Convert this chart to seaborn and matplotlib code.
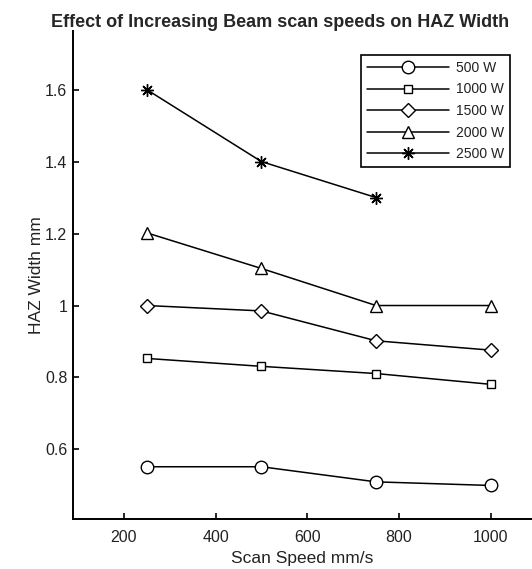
import matplotlib
matplotlib.use("Agg")
import matplotlib.pyplot as plt
import seaborn as sns

# data
speeds = [250, 500, 750, 1000]
powers = ["500 W", "1000 W", "1500 W", "2000 W", "2500 W"]
haz_500 = [0.552, 0.552, 0.51, 0.50]
haz_1000 = [0.853, 0.831, 0.811, 0.781]
haz_1500 = [1.0, 0.985, 0.902, 0.876]
haz_2000 = [1.202, 1.103, 1.0, 1.0]
haz_2500 = [1.6, 1.4, 1.3]  # no value at 1000 mm/s

sns.set_theme(style="white")
plt.rcParams["font.family"] = ["Liberation Sans", "DejaVu Sans"]

fig = plt.figure(figsize=(5.32, 5.69), dpi=100)
ax = fig.add_axes([0.137, 0.088, 0.863, 0.857])

series = [haz_500, haz_1000, haz_1500, haz_2000, haz_2500]
markers = ["o", "s", "D", "^", (8, 2, 0)]
msizes = [9, 6, 6.8, 9, 9]
for name, vals, m, ms in zip(powers, series, markers, msizes):
    sns.lineplot(x=speeds[:len(vals)], y=vals, ax=ax, color="black",
                 marker=m, markersize=ms, markerfacecolor="white",
                 markeredgecolor="black", markeredgewidth=1.0,
                 linewidth=1.1, label=name)

ax.set_xlim(89, 1090)
ax.set_ylim(0.407, 1.762)
ax.set_xticks([200, 400, 600, 800, 1000])
ax.set_yticks([0.6, 0.8, 1.0, 1.2, 1.4, 1.6])
ax.set_yticklabels(["0.6", "0.8", "1", "1.2", "1.4", "1.6"])

for s in ["top", "right"]:
    ax.spines[s].set_visible(False)
for s in ["left", "bottom"]:
    ax.spines[s].set_color("black")
    ax.spines[s].set_linewidth(1.4)

# MATLAB-style inward ticks
ax.tick_params(bottom=True, left=True, direction="in", length=4, width=1.2,
               colors="black", labelcolor="#222222", labelsize=11.5)
ax.tick_params(axis="x", pad=8)
ax.tick_params(axis="y", pad=4)

ax.set_xlabel("Scan Speed mm/s", fontsize=12.5, color="#222222")
ax.set_ylabel("HAZ Width mm", fontsize=12.5, color="#222222", labelpad=1)
ax.set_title("Effect of Increasing Beam scan speeds on HAZ Width",
             fontsize=13, fontweight="bold", x=0.451, pad=3)

leg = ax.legend(loc="upper right", bbox_to_anchor=(0.952, 0.951),
                borderaxespad=0, fontsize=10, handlelength=5.9,
                labelspacing=0.55, fancybox=False, framealpha=1,
                edgecolor="black", borderpad=0.4, handletextpad=0.55)
leg.get_frame().set_linewidth(1.2)
for t in leg.get_texts():
    t.set_color("#222222")

fig.savefig("out.png", dpi=100)
